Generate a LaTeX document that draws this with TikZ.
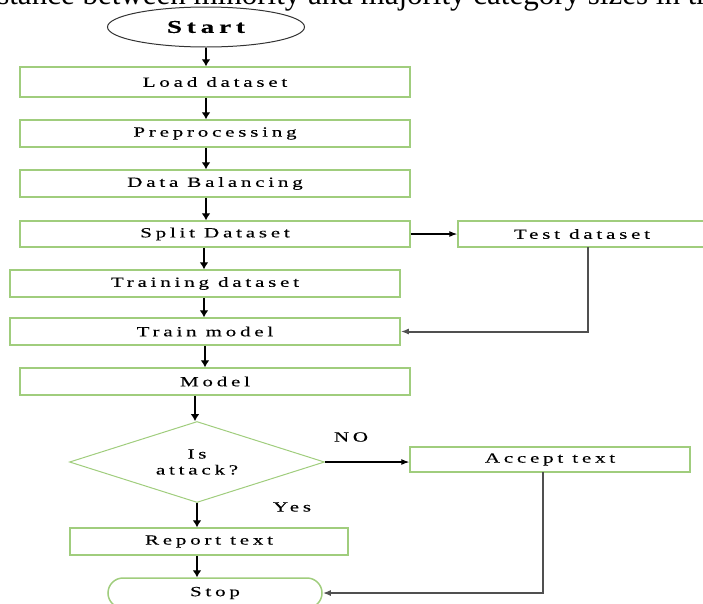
\documentclass[tikz,border=0pt]{standalone}
\usepackage{fontspec}
\setmainfont{Liberation Serif}
\newfontfamily\boxfont[FakeStretch=1.5,LetterSpace=27,FakeBold=0.3]{Liberation Serif}
\usetikzlibrary{arrows.meta,shapes.geometric}
\definecolor{boxgreen}{RGB}{160,205,125}
\definecolor{linkgray}{RGB}{80,80,80}
\tikzset{
  stepbox/.style={draw=boxgreen,line width=1.5pt,rectangle,inner sep=0pt,
    font=\boxfont\fontsize{14}{16}\selectfont},
  decision/.style={draw=boxgreen,line width=1pt,diamond,inner sep=0pt,
    align=center,font=\boxfont\fontsize{14}{16}\selectfont},
  arr/.style={draw=black,line width=2pt,-{Latex[length=7pt,width=9pt]}},
  thinarr/.style={draw=black,line width=1.1pt,-{Latex[length=8pt,width=6pt]}},
  backarr/.style={draw=linkgray,line width=2pt,-{Latex[length=8pt,width=6pt]}},
  lbl/.style={inner sep=0pt,font=\boxfont\fontsize{14}{16}\selectfont},
}
\begin{document}
\begin{tikzpicture}[x=1pt,y=-1pt]
\useasboundingbox (0,0) rectangle (703,603);
\clip (0,0) rectangle (703,603);
% running text line, cut off at the top edge
\node[anchor=base west,inner sep=0pt,font=\fontsize{31}{34}\selectfont] (caption) at (-27,4)
  {distance between minority and majority category sizes in the};
% terminals
\node[draw=black!80,line width=1pt,ellipse,minimum width=197pt,minimum height=40pt,inner sep=0pt,
  font=\boxfont\fontsize{18}{22}\selectfont\bfseries] (start) at (206,27) {Start};
\node[draw=boxgreen,line width=1.5pt,rectangle,rounded corners=15pt,minimum width=214pt,minimum height=30pt,
  font=\boxfont\fontsize{14}{16}\selectfont] (stop) at (215,593) {Stop};
% processing steps
\node[stepbox,minimum width=390pt,minimum height=30pt] (load) at (215,82) {Load dataset};
\node[stepbox,minimum width=390pt,minimum height=27pt] (pre) at (215,133.5) {Preprocessing};
\node[stepbox,minimum width=390pt,minimum height=27pt] (bal) at (215,183.5) {Data Balancing};
\node[stepbox,minimum width=390pt,minimum height=26pt] (split) at (215,234) {Split Dataset};
\node[stepbox,minimum width=248pt,minimum height=26pt] (test) at (582,234) {Test dataset};
\node[stepbox,minimum width=390pt,minimum height=27pt] (trainset) at (205,283.5) {Training dataset};
\node[stepbox,minimum width=390pt,minimum height=27pt] (trainmodel) at (205,331.5) {Train model};
\node[stepbox,minimum width=390pt,minimum height=27pt] (model) at (215,381.5) {Model};
\node[decision,minimum width=255pt,minimum height=81pt,shape aspect=3.15] (attack) at (197,462) {Is\\attack?};
\node[stepbox,minimum width=280pt,minimum height=25pt] (accept) at (550,459.5) {Accept text};
\node[stepbox,minimum width=278pt,minimum height=27pt] (report) at (209,541.5) {Report text};
% branch labels
\node[lbl] (no) at (351,437) {NO};
\node[lbl] (yes) at (292,507) {Yes};
% bends of the return links
\coordinate (testdown) at (588,247);
\coordinate (acceptdown) at (543,472);
% main flow
\draw[arr] (start.south) -- (start.south |- load.north);
\draw[arr] (load.south -| 206,0) -- (pre.north -| 206,0);
\draw[arr] (pre.south -| 206,0) -- (bal.north -| 206,0);
\draw[arr] (bal.south -| 206,0) -- (split.north -| 206,0);
\draw[arr] (split.south -| 204,0) -- (trainset.north -| 204,0);
\draw[arr] (trainset.south -| 204,0) -- (trainmodel.north -| 204,0);
\draw[arr] (trainmodel.south -| 205,0) -- (model.north -| 205,0);
\draw[arr] (model.south -| 195,0) -- (attack.north -| 195,0);
\draw[arr] (attack.south) -- (report.north -| attack.south);
\draw[arr] (report.south -| attack.south) -- (stop.north -| attack.south);
% side branches
\draw[thinarr] (split.east) -- (test.west);
\draw[thinarr] (attack.east) -- (accept.west |- attack.east);
\draw[backarr] (testdown) |- (trainmodel.east);
\draw[backarr] (acceptdown) |- (stop.east);
\end{tikzpicture}
\end{document}
